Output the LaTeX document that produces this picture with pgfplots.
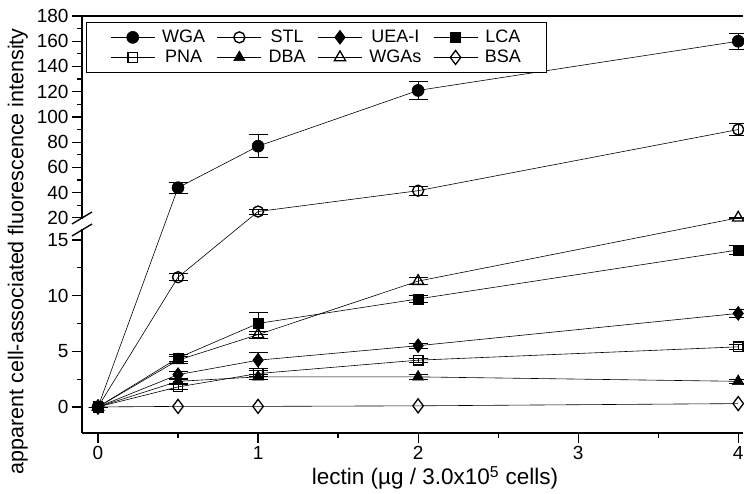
\documentclass[border=0pt]{standalone}
\usepackage{fontspec}
\setmainfont{Liberation Sans}
\usepackage{pgfplots}
\usepackage{pgfplotstable}
\pgfplotsset{compat=1.18}

\pgfplotstableread{
x   WGA   eWGA STL   eSTL UEA eUEA LCA  eLCA PNA ePNA DBA eDBA WGAs eWGAs BSA
0   0     0    0     0    0   0    0    0    0   0    0   0    0    0     0
0.5 43.9  4.5  11.65 0.3  2.9 0.3  4.4  0.35 1.8 0.25 2.3 0.2  4.2  0.3   0.05
1   76.8  9    25    2    4.2 0.7  7.5  0.95 3.0 0.25 2.7 0.25 6.5  0.3   0.05
2   121   7    41.5  3.5  5.5 0.25 9.7  0.35 4.2 0.2  2.7 0.2  11.3 0.3   0.1
4   160   6.5  90    5    8.4 0.35 14.1 0.4  5.4 0.2  2.3 0.2  20   0.3   0.3
}\data

% the upper part of the broken axis is compressed by this factor
\def\brk{16.6}
\def\cmp{0.11329}

\begin{document}
\begin{tikzpicture}
\path[use as bounding box] (-82pt,-61pt) rectangle (662pt,433pt);
\begin{axis}[
  at={(0,0)}, anchor=south west,
  scale only axis, width=661pt, height=417pt,
  xmin=-0.1, xmax=4.03,
  ymin=-2.34, ymax=180,
  y coord trafo/.code={\pgfmathparse{(#1<=\brk)?(#1):(\brk+(#1-\brk)*\cmp)}},
  axis x line=box, axis y line=left,
  axis line style={-, line width=1.5pt},
  xtick pos=left, ytick pos=left,
  tick align=outside,
  major tick length=10pt, minor tick length=5pt,
  tick style={black, line width=1.2pt},
  xtick={0,1,2,3,4}, xticklabels={0,1,2,3,4},
  minor xtick={0.5,1.5,2.5,3.5},
  ytick={0,5,10,15,20,40,60,80,100,120,140,160,180},
  yticklabels={0,5,10,15,20,40,60,80,100,120,140,160,180},
  minor ytick={2.5,7.5,12.5,30,50,70,90,110,130,150,170},
  tick label style={font=\fontsize{19}{22}\selectfont},
  xlabel={lectin (µg / 3.0x10\textsuperscript{5} cells)},
  ylabel={apparent cell-associated fluorescence intensity},
  xlabel style={font=\fontsize{22.5}{26}\selectfont, at={(axis description cs:0.534,-0.108)}, anchor=center},
  ylabel style={font=\fontsize{21.5}{25}\selectfont, at={(axis description cs:-0.097,0.436)}, anchor=center},
  clip=false,
  legend columns=4,
  legend style={at={(0.006,0.986)}, anchor=north west, draw=black, line width=1pt,
    font=\fontsize{18}{21}\selectfont, inner xsep=24pt, inner ysep=6pt, row sep=2pt,
    /tikz/every even column/.append style={column sep=10pt},
    /tikz/every odd column/.append style={column sep=5pt}},
  legend image code/.code={\draw[mark repeat=2,mark phase=2,#1] plot coordinates {(0pt,0pt)(22pt,0pt)(44pt,0pt)};},
  every axis plot/.append style={black, line width=0.6pt},
  error bars/error bar style={line width=0.8pt},
  error bars/error mark options={rotate=90, black, line width=0.8pt, mark size=9.5pt},
]
\addplot[mark=*, mark size=6pt, mark options={solid},
  error bars/.cd, y dir=both, y explicit]
  table[x=x, y=WGA, y error expr={\thisrow{eWGA}*((\thisrow{WGA}>\brk)?\cmp:1)}] {\data};
\addlegendentry{WGA}
\addplot[mark=o, mark size=5.5pt, mark options={solid, fill=white, line width=1.4pt},
  error bars/.cd, y dir=both, y explicit]
  table[x=x, y=STL, y error expr={\thisrow{eSTL}*((\thisrow{STL}>\brk)?\cmp:1)}] {\data};
\addlegendentry{STL}
\addplot[mark=diamond*, mark size=7pt, mark options={solid},
  error bars/.cd, y dir=both, y explicit] table[x=x, y=UEA, y error=eUEA] {\data};
\addlegendentry{UEA-I}
\addplot[mark=square*, mark size=5pt, mark options={solid},
  error bars/.cd, y dir=both, y explicit] table[x=x, y=LCA, y error=eLCA] {\data};
\addlegendentry{LCA}
\addplot[mark=square, mark size=4.8pt, mark options={solid, fill=white, line width=1.3pt},
  error bars/.cd, y dir=both, y explicit] table[x=x, y=PNA, y error=ePNA] {\data};
\addlegendentry{PNA}
\addplot[mark=triangle*, mark size=6.5pt, mark options={solid},
  error bars/.cd, y dir=both, y explicit] table[x=x, y=DBA, y error=eDBA] {\data};
\addlegendentry{DBA}
\addplot[mark=triangle, mark size=6.5pt, mark options={solid, fill=white, line width=1.3pt},
  error bars/.cd, y dir=both, y explicit]
  table[x=x, y=WGAs, y error expr={\thisrow{eWGAs}*((\thisrow{WGAs}>\brk)?\cmp:1)}] {\data};
\addlegendentry{WGAs}
\addplot[mark=diamond, mark size=7pt, mark options={solid, fill=white, line width=1.3pt}]
  table[x=x, y=BSA] {\data};
\addlegendentry{BSA}
\end{axis}
\fill[white] (-2.5pt,204pt) rectangle (2.5pt,214pt);
\draw[line width=1.3pt] (-10pt,209pt) -- (10pt,221pt);
\draw[line width=1.3pt] (-10pt,197pt) -- (10pt,209pt);
\end{tikzpicture}
\end{document}
